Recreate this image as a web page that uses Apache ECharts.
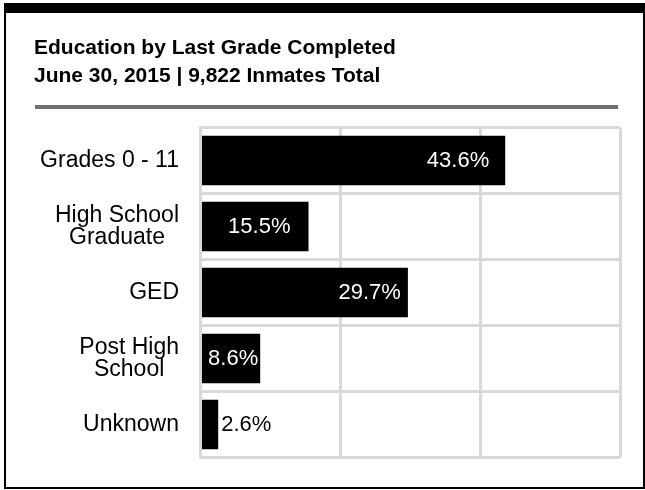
<!DOCTYPE html>
<html>
<head>
<meta charset="utf-8">
<script src="https://cdn.jsdelivr.net/npm/echarts@6/dist/echarts.min.js"></script>
<style>
html,body{margin:0;padding:0;background:#fff;}
#chart{width:645px;height:490px;}
</style>
</head>
<body>
<div id="chart"></div>
<script>
var titleLines = ['Education by Last Grade Completed', 'June 30, 2015 | 9,822 Inmates Total'];
var categories = ['Grades 0 - 11', 'High School\nGraduate', 'GED', 'Post High\nSchool', 'Unknown'];
var values = [43.6, 15.5, 29.7, 8.6, 2.6];
var axisMax = 60;
var axisInterval = 20;

// label styling (placement offsets, not data)
var labelDistance = [16, 18, 7, 2, 3];

var FONT = '"Liberation Sans", Arial, sans-serif';
var chart = echarts.init(document.getElementById('chart'), null, {renderer: 'canvas'});

var seriesData = values.map(function (v, i) {
  var small = v < 5;
  return {
    value: v,
    label: {
      show: true,
      position: small ? 'right' : 'insideRight',
      distance: labelDistance[i],
      color: small ? '#000' : '#fff',
      fontSize: 22,
      fontFamily: FONT,
      formatter: function (p) { return p.value.toFixed(1) + '%'; }
    }
  };
});

var option = {
  animation: false,
  backgroundColor: '#fff',
  title: {
    text: titleLines.join('\n'),
    left: 29,
    top: 29,
    textStyle: {
      fontFamily: FONT,
      fontSize: 21,
      fontWeight: 'bold',
      color: '#000',
      lineHeight: 28
    }
  },
  graphic: [
    {type: 'rect', shape: {x: 5, y: 8, width: 639, height: 480}, style: {fill: 'none', stroke: '#000', lineWidth: 2}, silent: true},
    {type: 'rect', shape: {x: 4, y: 3, width: 641, height: 10}, style: {fill: '#000'}, silent: true},
    {type: 'rect', shape: {x: 35, y: 105, width: 583, height: 4}, style: {fill: '#707070'}, silent: true}
  ],
  grid: {left: 200, right: 25, top: 127.5, bottom: 32.5, containLabel: false},
  xAxis: {
    type: 'value',
    min: 0,
    max: axisMax,
    interval: axisInterval,
    axisLine: {show: false},
    axisTick: {show: false},
    axisLabel: {show: false},
    splitLine: {show: true, lineStyle: {color: '#d9d9d9', width: 3}}
  },
  yAxis: {
    type: 'category',
    inverse: true,
    data: categories,
    z: 10,
    axisLine: {show: true, lineStyle: {color: '#d9d9d9', width: 3}},
    axisTick: {show: false},
    splitLine: {show: true, lineStyle: {color: '#d9d9d9', width: 3}},
    axisLabel: {
      margin: 21,
      align: 'right',
      formatter: function (val) {
        return val.split('\n').map(function (s) { return '{a|' + s + '}'; }).join('\n');
      },
      rich: {
        a: {fontFamily: FONT, fontSize: 23, color: '#000', align: 'center', lineHeight: 22}
      }
    }
  },
  series: [{
    type: 'bar',
    data: seriesData,
    barCategoryGap: '25%',
    itemStyle: {color: '#000'}
  }]
};
chart.setOption(option);
</script>
</body>
</html>
